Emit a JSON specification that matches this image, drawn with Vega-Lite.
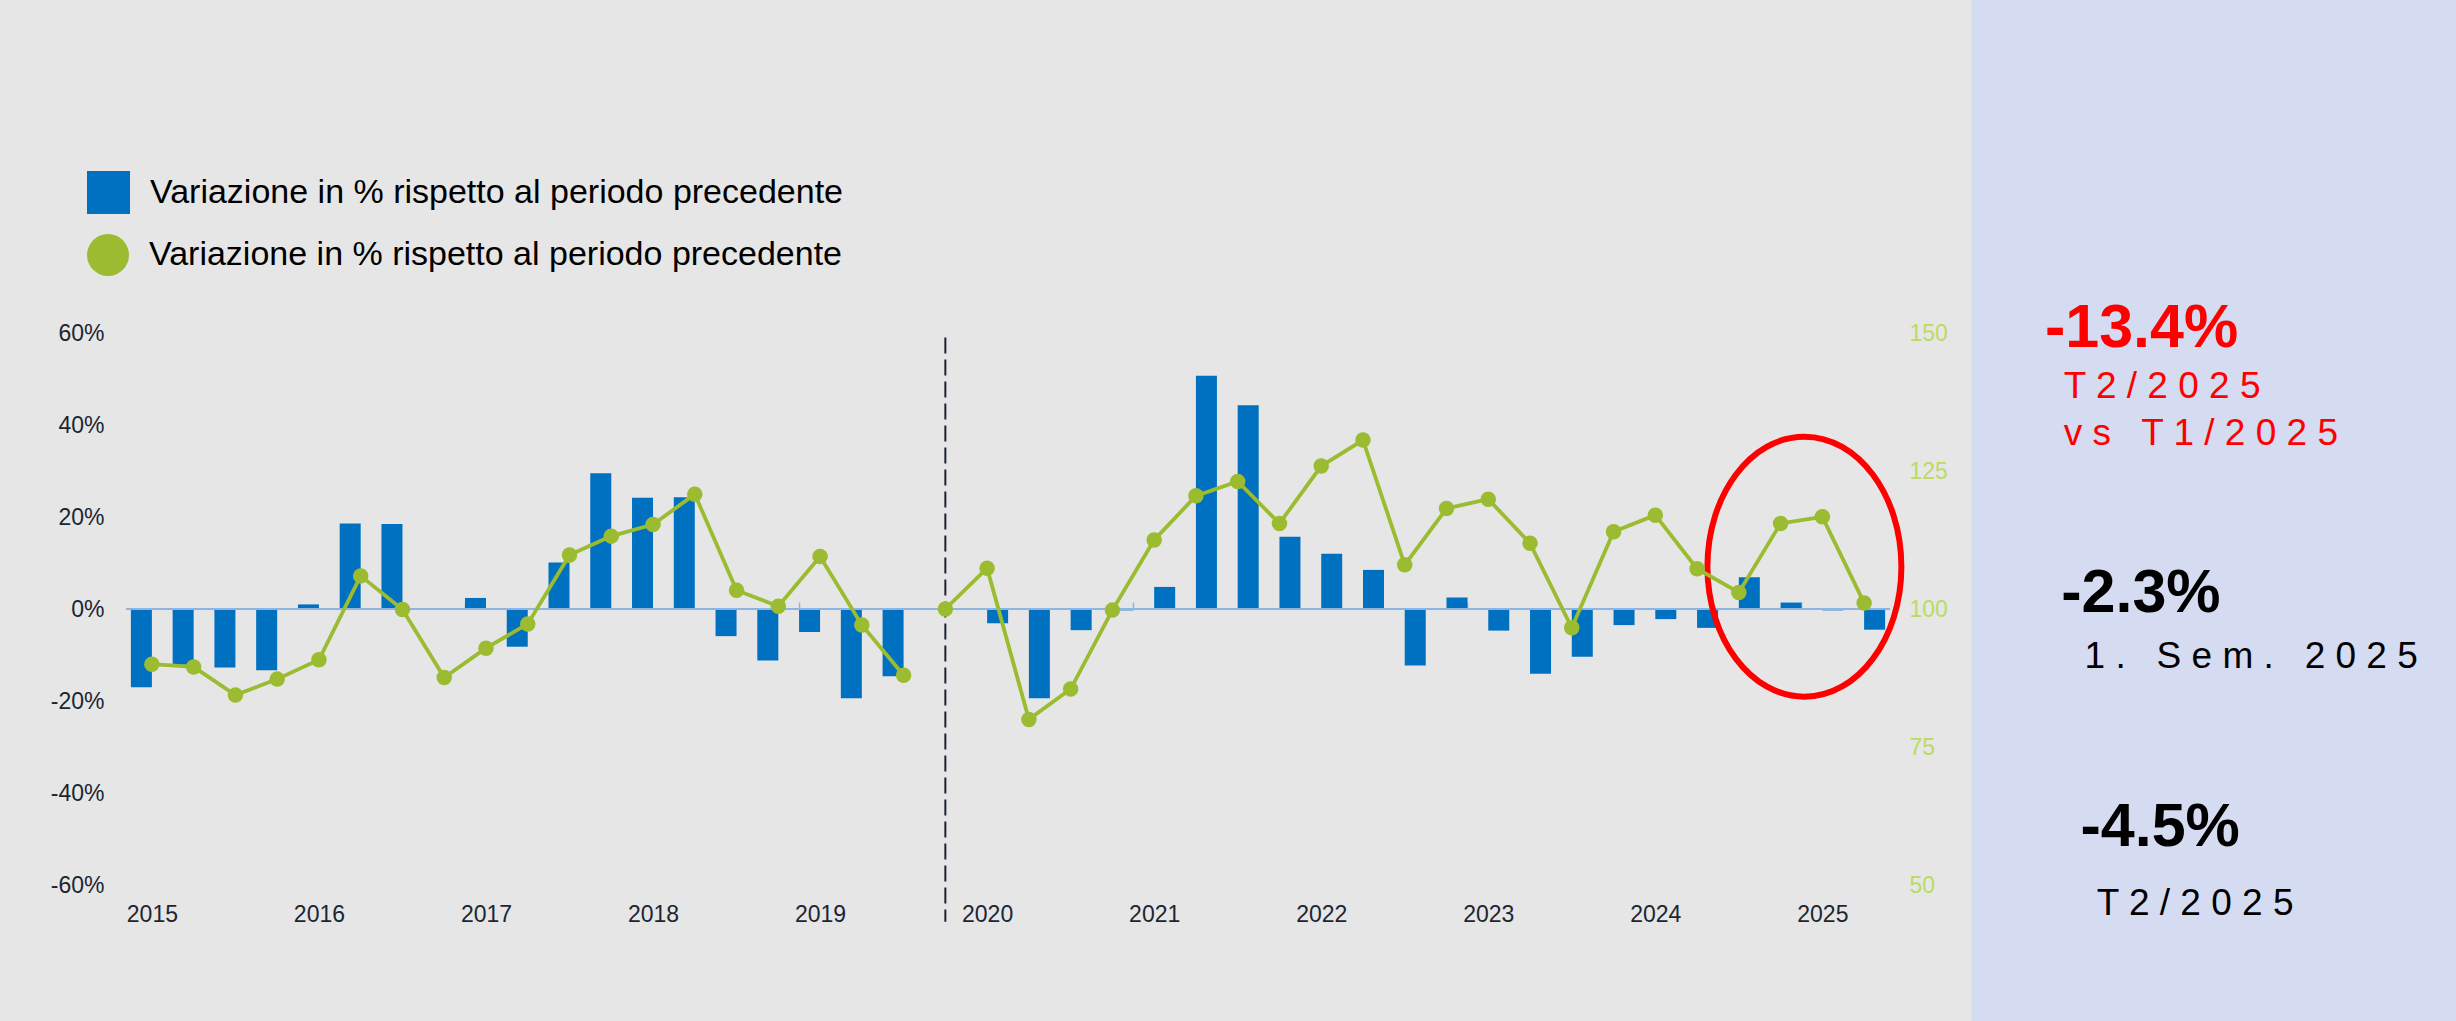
{
  "$schema": "https://vega.github.io/schema/vega-lite/v6.json",
  "width": 1764,
  "height": 552,
  "autosize": {"type": "none"},
  "padding": {"left": 126, "top": 333, "right": 566, "bottom": 136},
  "background": "#E6E6E6",
  "data": {
    "values": [
      {"t": 0, "p": "2015-T1", "var": -17.0, "idx": 90.0, "seg": "A"},
      {"t": 1, "p": "2015-T2", "var": -12.1, "idx": 89.5, "seg": "A"},
      {"t": 2, "p": "2015-T3", "var": -12.7, "idx": 84.4, "seg": "A"},
      {"t": 3, "p": "2015-T4", "var": -13.3, "idx": 87.3, "seg": "A"},
      {"t": 4, "p": "2016-T1", "var": 1.0, "idx": 90.8, "seg": "A"},
      {"t": 5, "p": "2016-T2", "var": 18.6, "idx": 106.0, "seg": "A"},
      {"t": 6, "p": "2016-T3", "var": 18.5, "idx": 99.9, "seg": "A"},
      {"t": 7, "p": "2016-T4", "var": 0.2, "idx": 87.6, "seg": "A"},
      {"t": 8, "p": "2017-T1", "var": 2.4, "idx": 92.9, "seg": "A"},
      {"t": 9, "p": "2017-T2", "var": -8.2, "idx": 97.3, "seg": "A"},
      {"t": 10, "p": "2017-T3", "var": 10.1, "idx": 109.8, "seg": "A"},
      {"t": 11, "p": "2017-T4", "var": 29.5, "idx": 113.2, "seg": "A"},
      {"t": 12, "p": "2018-T1", "var": 24.2, "idx": 115.3, "seg": "A"},
      {"t": 13, "p": "2018-T2", "var": 24.3, "idx": 120.8, "seg": "A"},
      {"t": 14, "p": "2018-T3", "var": -5.9, "idx": 103.4, "seg": "A"},
      {"t": 15, "p": "2018-T4", "var": -11.2, "idx": 100.5, "seg": "A"},
      {"t": 16, "p": "2019-T1", "var": -5.0, "idx": 109.5, "seg": "A"},
      {"t": 17, "p": "2019-T2", "var": -19.4, "idx": 97.1, "seg": "A"},
      {"t": 18, "p": "2019-T3", "var": -14.6, "idx": 88.0, "seg": "A"},
      {"t": 19, "p": "2019-T4", "var": null, "idx": 100.0, "seg": "B"},
      {"t": 20, "p": "2020-T1", "var": -3.1, "idx": 107.4, "seg": "B"},
      {"t": 21, "p": "2020-T2", "var": -19.4, "idx": 80.0, "seg": "B"},
      {"t": 22, "p": "2020-T3", "var": -4.6, "idx": 85.5, "seg": "B"},
      {"t": 23, "p": "2020-T4", "var": -0.3, "idx": 99.8, "seg": "B"},
      {"t": 24, "p": "2021-T1", "var": 4.8, "idx": 112.5, "seg": "B"},
      {"t": 25, "p": "2021-T2", "var": 50.7, "idx": 120.5, "seg": "B"},
      {"t": 26, "p": "2021-T3", "var": 44.3, "idx": 123.1, "seg": "B"},
      {"t": 27, "p": "2021-T4", "var": 15.7, "idx": 115.5, "seg": "B"},
      {"t": 28, "p": "2022-T1", "var": 12.0, "idx": 125.9, "seg": "B"},
      {"t": 29, "p": "2022-T2", "var": 8.5, "idx": 130.6, "seg": "B"},
      {"t": 30, "p": "2022-T3", "var": -12.3, "idx": 108.0, "seg": "B"},
      {"t": 31, "p": "2022-T4", "var": 2.5, "idx": 118.2, "seg": "B"},
      {"t": 32, "p": "2023-T1", "var": -4.7, "idx": 119.9, "seg": "B"},
      {"t": 33, "p": "2023-T2", "var": -14.1, "idx": 111.9, "seg": "B"},
      {"t": 34, "p": "2023-T3", "var": -10.4, "idx": 96.6, "seg": "B"},
      {"t": 35, "p": "2023-T4", "var": -3.5, "idx": 114.0, "seg": "B"},
      {"t": 36, "p": "2024-T1", "var": -2.2, "idx": 117.0, "seg": "B"},
      {"t": 37, "p": "2024-T2", "var": -4.1, "idx": 107.3, "seg": "B"},
      {"t": 38, "p": "2024-T3", "var": 6.9, "idx": 103.0, "seg": "B"},
      {"t": 39, "p": "2024-T4", "var": 1.4, "idx": 115.5, "seg": "B"},
      {"t": 40, "p": "2025-T1", "var": -0.3, "idx": 116.7, "seg": "B"},
      {"t": 41, "p": "2025-T2", "var": -4.5, "idx": 101.1, "seg": "B"}
    ]
  },
  "layer": [
    {
      "layer": [
        {
          "data": {"values": [{}]},
          "mark": {"type": "rect", "color": "#D5DBF0"},
          "encoding": {
            "x": {"datum": 43.57, "type": "quantitative", "axis": {"title": null, "values": [0, 4, 8, 12, 16, 20, 24, 28, 32, 36, 40], "labelExpr": "'' + (2015 + datum.value / 4)", "labelPadding": 18, "labelBaseline": "top"}},
            "x2": {"datum": 70},
            "y": {"datum": 150, "type": "quantitative", "axis": {"title": null, "values": [-60, -40, -20, 0, 20, 40, 60], "labelExpr": "datum.value + '%'", "labelPadding": 22}},
            "y2": {"datum": -110}
          }
        },
        {
          "transform": [{"filter": "datum.seg == 'A' && datum.var != null"}],
          "mark": {"type": "bar", "width": 21, "xOffset": -10.5},
          "encoding": {
            "x": {"field": "t", "type": "quantitative", "scale": {"domain": [-0.5, 41.5], "nice": false, "zero": false},
              "axis": {"title": null, "values": [0, 4, 8, 12, 16, 20, 24, 28, 32, 36, 40], "labelExpr": "'' + (2015 + datum.value / 4)", "labelPadding": 18, "labelBaseline": "top"}},
            "y": {"field": "var", "type": "quantitative", "scale": {"domain": [-60, 60], "nice": false},
              "axis": {"title": null, "values": [-60, -40, -20, 0, 20, 40, 60], "labelExpr": "datum.value + '%'", "labelPadding": 22}},
            "color": {"datum": "Variazione in % rispetto al periodo precedente", "type": "nominal",
              "scale": {"range": ["#0070C0"]},
              "legend": {"orient": "none", "legendX": -39, "legendY": -162, "symbolType": "square", "symbolSize": 1849, "symbolStrokeWidth": 0, "labelOffset": 20}}
          }
        },
        {
          "transform": [{"filter": "datum.seg == 'B' && datum.var != null"}],
          "mark": {"type": "bar", "width": 21, "xOffset": 10.5},
          "encoding": {
            "x": {"field": "t", "type": "quantitative",
              "axis": {"title": null, "values": [0, 4, 8, 12, 16, 20, 24, 28, 32, 36, 40], "labelExpr": "'' + (2015 + datum.value / 4)", "labelPadding": 18, "labelBaseline": "top"}},
            "y": {"field": "var", "type": "quantitative",
              "axis": {"title": null, "values": [-60, -40, -20, 0, 20, 40, 60], "labelExpr": "datum.value + '%'", "labelPadding": 22}},
            "color": {"datum": "Variazione in % rispetto al periodo precedente", "type": "nominal"}
          }
        },
        {
          "data": {"values": [{}]},
          "mark": {"type": "rule", "color": "#8EB4E3", "strokeWidth": 2},
          "encoding": {"y": {"datum": 0, "type": "quantitative", "axis": {"title": null, "values": [-60, -40, -20, 0, 20, 40, 60], "labelExpr": "datum.value + '%'", "labelPadding": 22}}}
        },
        {
          "data": {"values": [{}]},
          "mark": {"type": "rule", "color": "#1B2331", "strokeWidth": 2, "strokeDash": [16, 6]},
          "encoding": {
            "x": {"datum": 19, "type": "quantitative", "axis": {"title": null, "values": [0, 4, 8, 12, 16, 20, 24, 28, 32, 36, 40], "labelExpr": "'' + (2015 + datum.value / 4)", "labelPadding": 18, "labelBaseline": "top"}},
            "y": {"datum": 59, "type": "quantitative", "axis": {"title": null, "values": [-60, -40, -20, 0, 20, 40, 60], "labelExpr": "datum.value + '%'", "labelPadding": 22}},
            "y2": {"datum": -68}
          }
        },
        {
          "data": {"values": [{}]},
          "mark": {"type": "point", "shape": "M 0.746 0 C 0.746 0.5523 0.412 1 0 1 C -0.412 1 -0.746 0.5523 -0.746 0 C -0.746 -0.5523 -0.412 -1 0 -1 C 0.412 -1 0.746 -0.5523 0.746 0 Z", "size": 67600, "filled": false, "stroke": "#FF0000", "strokeWidth": 6, "opacity": 1},
          "encoding": {
            "x": {"datum": 39.57, "type": "quantitative", "axis": {"title": null, "values": [0, 4, 8, 12, 16, 20, 24, 28, 32, 36, 40], "labelExpr": "'' + (2015 + datum.value / 4)", "labelPadding": 18, "labelBaseline": "top"}},
            "y": {"datum": 9.2, "type": "quantitative", "axis": {"title": null, "values": [-60, -40, -20, 0, 20, 40, 60], "labelExpr": "datum.value + '%'", "labelPadding": 22}}
          }
        },
        {
          "data": {"values": [
            {"txt": "-13.4%", "tx": 45.33, "ty": 56.96, "col": "r"},
            {"txt": "-2.3%", "tx": 45.72, "ty": -0.65, "col": "k"},
            {"txt": "-4.5%", "tx": 46.18, "ty": -51.5, "col": "k"}
          ]},
          "mark": {"type": "text", "font": "Liberation Sans", "fontSize": 61, "fontWeight": "bold", "align": "left", "baseline": "alphabetic"},
          "encoding": {
            "x": {"field": "tx", "type": "quantitative", "axis": {"title": null, "values": [0, 4, 8, 12, 16, 20, 24, 28, 32, 36, 40], "labelExpr": "'' + (2015 + datum.value / 4)", "labelPadding": 18, "labelBaseline": "top"}},
            "y": {"field": "ty", "type": "quantitative", "axis": {"title": null, "values": [-60, -40, -20, 0, 20, 40, 60], "labelExpr": "datum.value + '%'", "labelPadding": 22}},
            "text": {"field": "txt"},
            "color": {"condition": {"test": "datum.col == 'r'", "value": "#FF0000"}, "value": "#000000"}
          }
        },
        {
          "data": {"values": [
            {"txt": "T 2 / 2 0 2 5", "tx": 45.78, "ty": 45.87, "col": "r"},
            {"txt": "v s \u00a0 T 1 / 2 0 2 5", "tx": 45.78, "ty": 35.65, "col": "r"},
            {"txt": "1 . \u00a0 S e m . \u00a0 2 0 2 5", "tx": 46.28, "ty": -12.83, "col": "k"},
            {"txt": "T 2 / 2 0 2 5", "tx": 46.57, "ty": -66.6, "col": "k"}
          ]},
          "mark": {"type": "text", "font": "Liberation Sans", "fontSize": 37, "align": "left", "baseline": "alphabetic"},
          "encoding": {
            "x": {"field": "tx", "type": "quantitative", "axis": {"title": null, "values": [0, 4, 8, 12, 16, 20, 24, 28, 32, 36, 40], "labelExpr": "'' + (2015 + datum.value / 4)", "labelPadding": 18, "labelBaseline": "top"}},
            "y": {"field": "ty", "type": "quantitative", "axis": {"title": null, "values": [-60, -40, -20, 0, 20, 40, 60], "labelExpr": "datum.value + '%'", "labelPadding": 22}},
            "text": {"field": "txt"},
            "color": {"condition": {"test": "datum.col == 'r'", "value": "#FF0000"}, "value": "#000000"}
          }
        }
      ]
    },
    {
      "layer": [
        {
          "mark": {"type": "line", "color": "#9BBB31", "strokeWidth": 3.8},
          "encoding": {
            "x": {"field": "t", "type": "quantitative", "axis": {"title": null, "values": [7.5, 15.5, 23.5, 31.5, 39.5], "labels": false, "ticks": true, "tickSize": 7, "tickColor": "#8EB4E3", "tickWidth": 1.5, "offset": -276}},
            "y": {"field": "idx", "type": "quantitative", "scale": {"domain": [50, 150], "nice": false, "zero": false},
              "axis": {"orient": "right", "title": null, "values": [50, 75, 100, 125, 150], "labelColor": "#BADB62", "labelPadding": 19}},
            "detail": {"field": "seg", "type": "nominal"}
          }
        },
        {
          "mark": {"type": "point", "filled": true, "size": 240, "color": "#9BBB31", "opacity": 1},
          "encoding": {
            "x": {"field": "t", "type": "quantitative", "axis": {"title": null, "values": [7.5, 15.5, 23.5, 31.5, 39.5], "labels": false, "ticks": true, "tickSize": 7, "tickColor": "#8EB4E3", "tickWidth": 1.5, "offset": -276}},
            "y": {"field": "idx", "type": "quantitative",
              "axis": {"orient": "right", "title": null, "values": [50, 75, 100, 125, 150], "labelColor": "#BADB62", "labelPadding": 19}},
            "shape": {"datum": "Variazione in % rispetto al periodo precedente\u00a0", "type": "nominal",
              "scale": {"range": ["circle"]},
              "legend": {"orient": "none", "legendX": -39, "legendY": -99, "symbolType": "circle", "symbolSize": 1764, "symbolFillColor": "#9BBB31", "symbolStrokeColor": "#9BBB31", "symbolStrokeWidth": 0, "labelOffset": 20}}
          }
        }
      ]
    }
  ],
  "resolve": {"scale": {"y": "independent"}, "axis": {"x": "independent"}},
  "config": {
    "view": {"stroke": null},
    "axis": {"grid": false, "domain": false, "ticks": false, "labelFont": "Liberation Sans", "labelFontSize": 23, "labelColor": "#1C2532"},
    "legend": {"title": null, "padding": 0, "labelFont": "Liberation Sans", "labelFontSize": 34, "labelColor": "#000000", "labelLimit": 1200}
  }
}
